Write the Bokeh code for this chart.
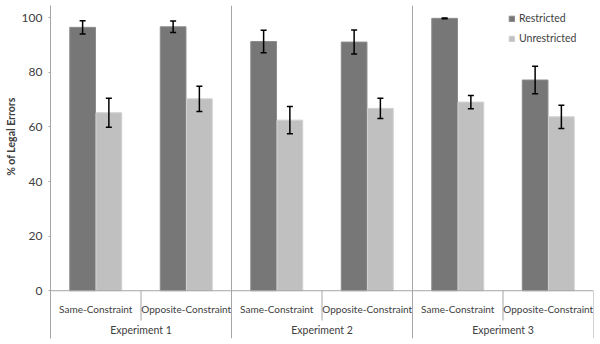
from bokeh.plotting import figure
from bokeh.models import (ColumnDataSource, FixedTicker, Range1d, Span, Whisker,
                          TeeHead, Title, Legend, LegendItem)
from bokeh.core.properties import value
from bokeh.embed import file_html
from bokeh.resources import INLINE

experiments = ["Experiment 1", "Experiment 2", "Experiment 3"]
conditions = ["Same-Constraint", "Opposite-Constraint"]
restricted = [96.5, 96.7, 91.3, 91.1, 99.8, 77.2]
restricted_err = [2.45, 2.1, 4.15, 4.4, 0.15, 5.05]
unrestricted = [65.2, 70.3, 62.5, 66.8, 69.1, 63.7]
unrestricted_err = [5.35, 4.6, 5.0, 3.7, 2.45, 4.25]
y_ticks = [0, 20, 40, 60, 80, 100]

FONT = "Lato"
TXT = "#404040"
AXC = "#a6a6a6"

n = len(restricted)
centers = [i + 0.5 for i in range(n)]
off = 0.145
bw = 0.284

src_r = ColumnDataSource(dict(x=[c - off for c in centers], top=restricted,
                              up=[v + e for v, e in zip(restricted, restricted_err)],
                              lo=[v - e for v, e in zip(restricted, restricted_err)]))
src_u = ColumnDataSource(dict(x=[c + off for c in centers], top=unrestricted,
                              up=[v + e for v, e in zip(unrestricted, unrestricted_err)],
                              lo=[v - e for v, e in zip(unrestricted, unrestricted_err)]))

p = figure(width=600, height=344, output_backend="svg", toolbar_location=None,
           x_range=Range1d(0, n), y_range=Range1d(-17.5, 104.5),
           x_axis_location=None, min_border_left=49, min_border_right=7,
           min_border_top=5, min_border_bottom=6)
p.outline_line_color = None
p.xgrid.visible = False
p.ygrid.visible = False

r1 = p.vbar(x="x", top="top", width=bw, bottom=0, source=src_r,
            fill_color="#777777", line_color="#8c8c8c", line_width=1)
r2 = p.vbar(x="x", top="top", width=bw, bottom=0, source=src_u,
            fill_color="#c0c0c0", line_color="#d0d0d0", line_width=1)

for s in (src_r, src_u):
    w = Whisker(base="x", upper="up", lower="lo", source=s, line_color="black",
                line_width=1.5, level="overlay",
                upper_head=TeeHead(size=6, line_color="black", line_width=1.5),
                lower_head=TeeHead(size=6, line_color="black", line_width=1.5))
    p.add_layout(w)

# baseline and separators
p.add_layout(Span(location=0, dimension="width", line_color=AXC, line_width=1))
for g in range(1, len(experiments)):
    p.add_layout(Span(location=2 * g, dimension="height", line_color=AXC, line_width=1))
p.segment(x0=[n], y0=[0], x1=[n], y1=[-17.5], line_color=AXC, line_width=1)
p.segment(x0=[2 * g + 1 for g in range(len(experiments))], y0=[0] * 3,
          x1=[2 * g + 1 for g in range(len(experiments))], y1=[-10.9] * 3,
          line_color=AXC, line_width=1)

# category labels
p.text(x=centers, y=[-6.7] * n, text=conditions * len(experiments),
       text_align="center", text_baseline="middle", text_color=TXT,
       text_font=value(FONT), text_font_size=value("10px"))
p.text(x=[2 * g + 1 for g in range(len(experiments))], y=[-14.4] * 3, text=experiments,
       text_align="center", text_baseline="middle", text_color=TXT,
       text_font=value(FONT), text_font_size=value("10.5px"))

ax = p.yaxis[0]
ax.ticker = FixedTicker(ticks=y_ticks)
ax.axis_line_color = AXC
ax.major_tick_line_color = AXC
ax.major_tick_out = 2
ax.major_tick_in = 0
ax.minor_tick_line_color = None
ax.major_label_standoff = 6
ax.major_label_text_font = FONT
ax.major_label_text_font_size = "12px"
ax.major_label_text_color = TXT

p.add_layout(Title(text="% of Legal Errors", align="right", offset=92, standoff=4,
                   text_font=FONT, text_font_size="10.5px", text_font_style="bold",
                   text_color=TXT), "left")

legend = Legend(items=[LegendItem(label="Restricted", renderers=[r1]),
                       LegendItem(label="Unrestricted", renderers=[r2])],
                location=(458, 290), padding=0, margin=0, spacing=0,
                glyph_width=7, glyph_height=7, label_standoff=4, label_height=20,
                label_text_font=FONT, label_text_font_size="10.5px",
                label_text_color=TXT, border_line_color=None,
                background_fill_alpha=0)
p.add_layout(legend)

open("out.html", "w").write(file_html(p, INLINE))
